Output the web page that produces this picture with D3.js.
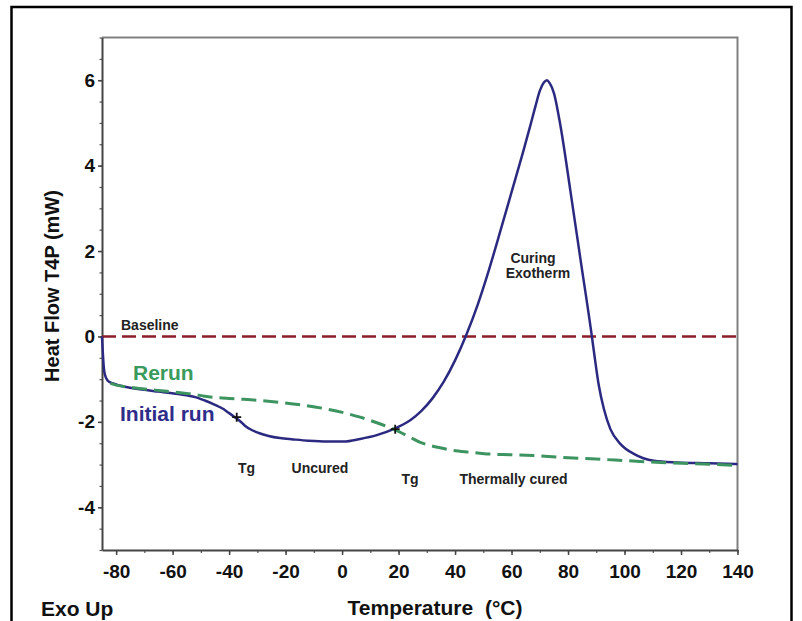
<!DOCTYPE html>
<html><head><meta charset="utf-8">
<script src="https://cdn.jsdelivr.net/npm/d3@7"></script>
<style>
body{margin:0;background:#fff}
text{font-family:"Liberation Sans",Arial,Helvetica,sans-serif;font-weight:bold}
</style>
</head><body>
<svg id="chart" width="802" height="621"></svg>
<script>
// ---- data ----
const xTickValues = [-80, -60, -40, -20, 0, 20, 40, 60, 80, 100, 120, 140];
const yTickValues = [-4, -2, 0, 2, 4, 6];

const initialRunX = [-85, -84.6, -84.2, -83.5, -82.5, -80.5, -78, -75, -70, -65, -58, -52, -48.6, -45, -42, -40.3, -38, -36, -34.4, -32, -29.5, -26, -22, -17.3, -12, -5.4, 0.5, 6.4, 12.3, 18.2, 24, 28, 32, 36, 40, 44, 48, 52, 56, 60, 64, 66.5, 68.5, 70, 71.5, 72.5, 73.5, 75, 77.3, 80.9, 84.4, 88.4, 89.2, 90.9, 92.7, 95, 98.6, 103.3, 110.4, 118.7, 130, 140];
const initialRunY = [0, -0.5, -0.82, -0.98, -1.06, -1.11, -1.16, -1.2, -1.25, -1.29, -1.35, -1.42, -1.5, -1.6, -1.7, -1.78, -1.89, -1.99, -2.09, -2.19, -2.26, -2.33, -2.38, -2.41, -2.44, -2.46, -2.46, -2.4, -2.31, -2.17, -1.97, -1.75, -1.45, -1.06, -0.56, 0.04, 0.74, 1.56, 2.46, 3.38, 4.3, 4.9, 5.4, 5.75, 5.95, 6.0, 5.93, 5.7, 4.94, 3.38, 1.81, 0.02, -0.37, -1.15, -1.7, -2.17, -2.52, -2.75, -2.91, -2.95, -2.97, -2.99];

const rerunX = [-82, -80, -75, -70, -64, -58, -52, -48.6, -40, -29, -17.3, -5.4, 6.4, 12.3, 18.2, 24.1, 27.7, 30, 35, 39.5, 45, 51.3, 60, 67.7, 77.3, 90, 101, 112.8, 125, 140];
const rerunY = [-1.1, -1.14, -1.19, -1.23, -1.27, -1.31, -1.36, -1.4, -1.45, -1.5, -1.58, -1.7, -1.89, -2.02, -2.17, -2.36, -2.48, -2.53, -2.61, -2.67, -2.71, -2.75, -2.77, -2.79, -2.83, -2.87, -2.91, -2.95, -2.98, -3.02];

const baselineX = [-85, 140];
const baselineY = [0, 0];

const tgMarkX = [-37.3, 18.8];
const tgMarkY = [-1.89, -2.17];

// ---- layout ----
const svg = d3.select("#chart");
const x = d3.scaleLinear().domain([-85, 140]).range([102, 737.5]);
const y = d3.scaleLinear().domain([-5, 7]).range([550, 37.5]);

// outer frame
svg.append("rect").attr("x", 11.5).attr("y", 7).attr("width", 780).attr("height", 630)
  .attr("fill", "none").attr("stroke", "#000").attr("stroke-width", 2.5);

// plot frame top/right
svg.append("path")
  .attr("d", `M${x(-85)},${y(7)}H${x(140)}V${y(-5)}`)
  .attr("fill", "none").attr("stroke", "#808080").attr("stroke-width", 2);

// minor ticks x
const xMinor = d3.range(-80, 141, 10);
svg.append("g").attr("transform", `translate(0,${y(-5)})`)
  .call(d3.axisBottom(x).tickValues(xMinor).tickSize(3).tickFormat(""))
  .call(g => g.select(".domain").remove())
  .call(g => g.selectAll("line").attr("stroke", "#555").attr("stroke-width", 1.2));

// y minor ticks
const yMinor = d3.range(-5, 7.01, 0.5);
svg.append("g").attr("transform", `translate(${x(-85)},0)`)
  .call(d3.axisLeft(y).tickValues(yMinor).tickSize(2.5).tickFormat(""))
  .call(g => g.select(".domain").remove())
  .call(g => g.selectAll("line").attr("stroke", "#555").attr("stroke-width", 1.2));

const fmt = d => String(d);

// x axis
svg.append("g").attr("transform", `translate(0,${y(-5)})`)
  .call(d3.axisBottom(x).tickValues(xTickValues).tickFormat(fmt).tickSize(5).tickPadding(10).tickSizeOuter(0))
  .call(g => g.select(".domain").attr("stroke", "#444").attr("stroke-width", 2))
  .call(g => g.selectAll("line").attr("stroke", "#444").attr("stroke-width", 1.5))
  .call(g => g.selectAll("text").attr("font-size", 19).attr("fill", "#111")
    .attr("font-family", "Liberation Sans, Arial, sans-serif").attr("font-weight", "bold"));

// y axis
svg.append("g").attr("transform", `translate(${x(-85)},0)`)
  .call(d3.axisLeft(y).tickValues(yTickValues).tickFormat(fmt).tickSize(4).tickPadding(3).tickSizeOuter(0))
  .call(g => g.select(".domain").attr("stroke", "#444").attr("stroke-width", 2))
  .call(g => g.selectAll("line").attr("stroke", "#444").attr("stroke-width", 1.5))
  .call(g => g.selectAll("text").attr("font-size", 19).attr("fill", "#111")
    .attr("font-family", "Liberation Sans, Arial, sans-serif").attr("font-weight", "bold"));

// lines
const line = d3.line().x(d => x(d[0])).y(d => y(d[1])).curve(d3.curveMonotoneX);

svg.append("path").datum(d3.zip(baselineX, baselineY))
  .attr("d", d3.line().x(d => x(d[0])).y(d => y(d[1])))
  .attr("fill", "none").attr("stroke", "#8a1e28").attr("stroke-width", 2.5)
  .attr("stroke-dasharray", "14,6");

svg.append("path").datum(d3.zip(initialRunX, initialRunY))
  .attr("d", line).attr("fill", "none").attr("stroke", "#2b2a80").attr("stroke-width", 2.5);

svg.append("path").datum(d3.zip(rerunX, rerunY))
  .attr("d", line).attr("fill", "none").attr("stroke", "#3d9460").attr("stroke-width", 3)
  .attr("stroke-dasharray", "15,7");

// Tg marks
svg.selectAll(".mk").data(d3.zip(tgMarkX, tgMarkY)).join("path")
  .attr("d", d => `M${x(d[0]) - 4.5},${y(d[1])}h9M${x(d[0])},${y(d[1]) - 4.5}v9`)
  .attr("stroke", "#111").attr("stroke-width", 1.8);

// labels
function label(t, px, py, size, color, anchor) {
  svg.append("text").attr("x", px).attr("y", py).attr("font-size", size)
    .attr("fill", color).attr("text-anchor", anchor || "middle").text(t);
}
label("Baseline", 121, 330, 14, "#222", "start");
label("Rerun", 133, 380, 21, "#3a9a5c", "start");
label("Initial run", 120, 421, 21, "#2e2d8a", "start");
label("Tg", 246.5, 473, 14, "#222");
label("Uncured", 320, 473, 14, "#222");
label("Tg", 410, 484, 14, "#222");
label("Thermally cured", 513.5, 484, 14, "#222");
label("Curing", 533, 263, 14, "#222");
label("Exotherm", 538, 278, 14, "#222");

label("Exo Up", 41, 616, 21, "#111", "start");
label("Temperature\u00a0\u00a0(°C)", 435, 615, 21, "#111");

svg.append("text").attr("transform", "translate(59,286) rotate(-90)")
  .attr("text-anchor", "middle").attr("font-size", 20).attr("fill", "#111")
  .text("Heat Flow T4P (mW)");
</script>
</body></html>
